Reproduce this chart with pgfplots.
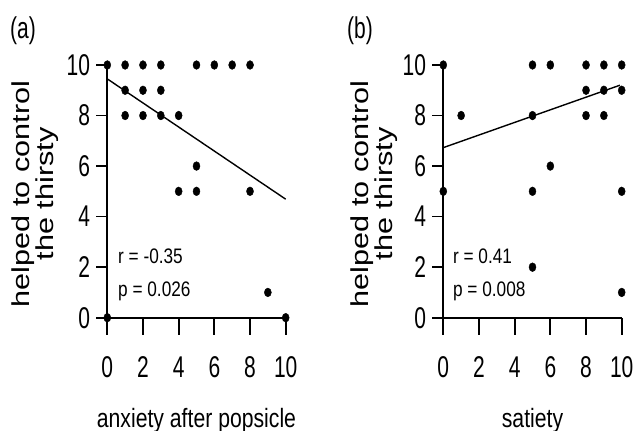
\documentclass[border=0pt]{standalone}
\usepackage{pgfplots}
\pgfplotsset{compat=1.18}
\usepackage{fontspec}
\setmainfont{Liberation Sans}
\newfontfamily\ticknarrow[FakeStretch=0.7]{Liberation Sans}
\newfontfamily\labnarrow[FakeStretch=0.8]{Liberation Sans}
\newfontfamily\statnarrow[FakeStretch=0.82]{Liberation Sans}
\newfontfamily\ywide[FakeStretch=1.25]{Liberation Sans}

\pgfplotsset{
  panel/.style={
    scale only axis, width=178.4bp, height=252.7bp,
    xmin=0, xmax=10, ymin=0, ymax=10,
    axis lines=left, axis line style={-, line width=1.7bp},
    tick align=outside, major tick length=11bp,
    tick style={black, line width=1.7bp},
    xtick style={/pgfplots/major tick length=17bp},
    xtick={0,2,...,10}, ytick={0,2,...,10},
    /pgf/number format/assume math mode=true,
    tick label style={font=\ticknarrow\fontsize{30bp}{30bp}\selectfont, inner sep=0pt},
    xticklabel style={anchor=north},
    yticklabel style={anchor=east},
    xticklabel shift=28bp, yticklabel shift=6bp,
    xlabel style={font=\labnarrow\fontsize{26.5bp}{30bp}\selectfont,
      at={(axis description cs:0.5,0)}, anchor=base, yshift=-109.3bp, inner sep=0pt},
    clip=false,
  },
  dots/.style={only marks, mark=*, mark size=4.4bp,
    mark options={xscale=0.8, fill=black, draw=black}},
  regline/.style={black, line width=1.4bp, no marks},
}
\tikzset{
  stat/.style={anchor=base west, inner sep=0pt,
    font=\statnarrow\fontsize{21bp}{24bp}\selectfont},
}

\begin{document}
\begin{tikzpicture}
\useasboundingbox (0,0) rectangle (635bp,431bp);

% (a) anxiety after popsicle
\begin{axis}[panel, at={(107.3bp,113.3bp)}, anchor=origin,
  xlabel={anxiety after popsicle},
  ylabel={helped to control\\the thirsty},
  ylabel style={at={(axis description cs:-0.405,0.49)}, anchor=center,
    align=center, font=\ywide\fontsize{24.5bp}{23.5bp}\selectfont}]
\addplot[dots] coordinates {
  (0,10) (1,10) (2,10) (3,10) (5,10) (6,10) (7,10) (8,10)
  (1,9) (2,9) (3,9)
  (1,8) (2,8) (3,8) (4,8)
  (5,6)
  (4,5) (5,5) (8,5)
  (9,1)
  (0,0) (10,0)
};
\addplot[regline] coordinates {(0,9.45) (10,4.69)};
\node[stat] at (axis cs:0.6,2.16) {r = -0.35};
\node[stat] at (axis cs:0.6,0.82) {p = 0.026};
\end{axis}

% (b) satiety
\begin{axis}[panel, at={(443.3bp,113.3bp)}, anchor=origin,
  xlabel={satiety},
  ylabel={helped to control\\the thirsty},
  ylabel style={at={(axis description cs:-0.388,0.49)}, anchor=center,
    align=center, font=\ywide\fontsize{24.5bp}{23.5bp}\selectfont}]
\addplot[dots] coordinates {
  (0,10) (5,10) (6,10) (8,10) (9,10) (10,10)
  (8,9) (9,9) (10,9)
  (1,8) (5,8) (8,8) (9,8)
  (6,6)
  (0,5) (5,5) (10,5)
  (5,2)
  (10,1)
};
\addplot[regline] coordinates {(0,6.73) (9.9,9.2)};
\node[stat] at (axis cs:0.54,2.16) {r = 0.41};
\node[stat] at (axis cs:0.54,0.82) {p = 0.008};
\end{axis}

\node[font=\ticknarrow\fontsize{30bp}{30bp}\selectfont, inner sep=0pt] at (23bp,400bp) {(a)};
\node[font=\ticknarrow\fontsize{30bp}{30bp}\selectfont, inner sep=0pt] at (360bp,400bp) {(b)};
\end{tikzpicture}
\end{document}
